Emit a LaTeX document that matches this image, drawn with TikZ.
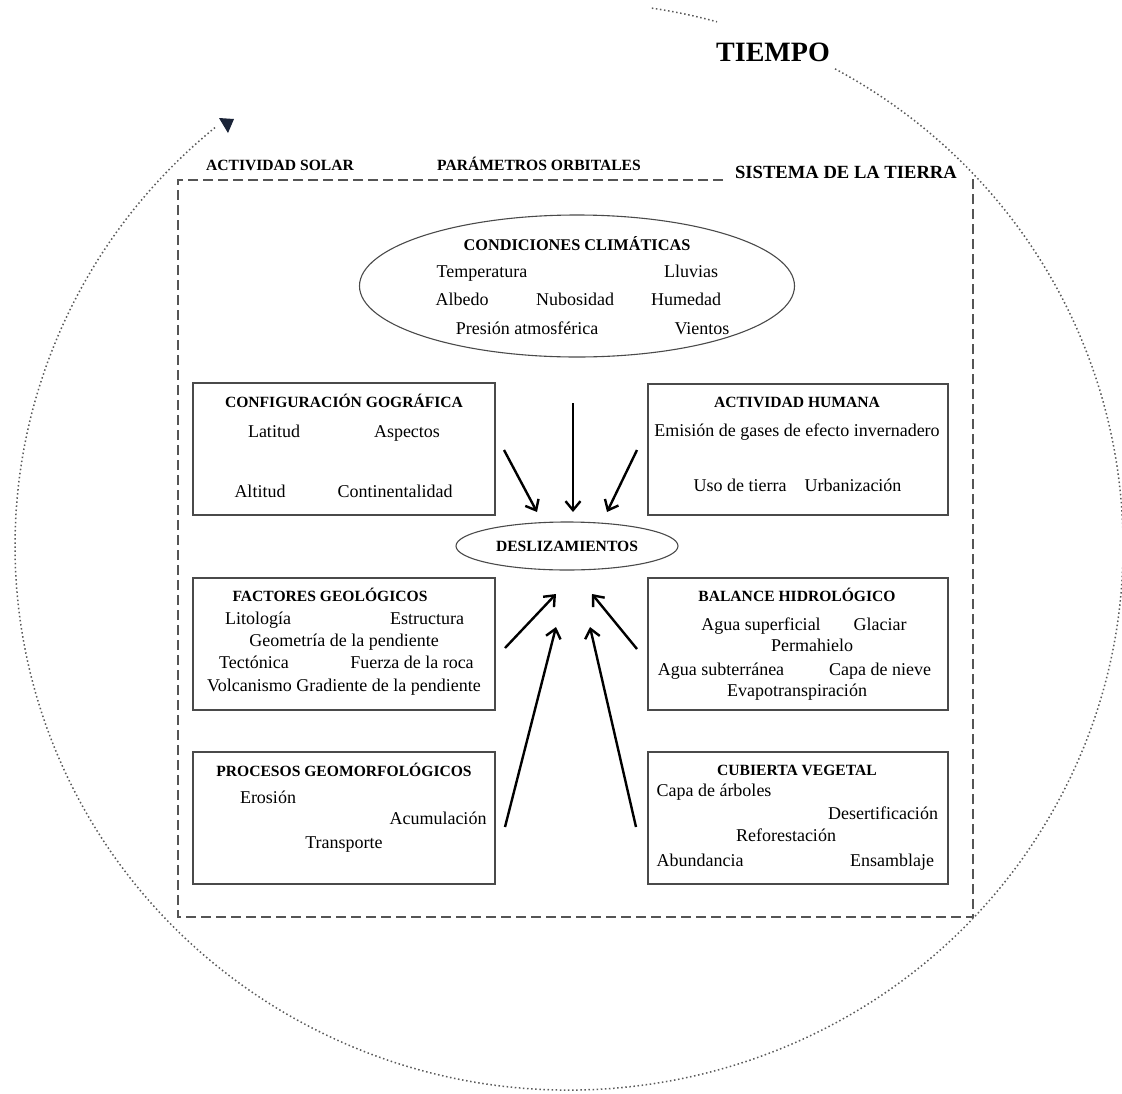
\documentclass[tikz,border=0pt]{standalone}
\usepackage{fontspec}
\setmainfont{Liberation Serif}
\usetikzlibrary{shapes.geometric,arrows.meta}

\definecolor{frame}{HTML}{555555}
\definecolor{boxline}{HTML}{4A4A4A}
\definecolor{dots}{HTML}{5A5A5A}
\definecolor{tipnavy}{HTML}{1B2438}

\tikzset{
  panel/.style={draw=boxline, line width=1.2pt, rectangle, inner sep=0pt},
  oval/.style={draw=boxline, line width=1.1pt, ellipse, inner sep=0pt},
  heading/.style={font=\bfseries\fontsize{15.6}{18}\selectfont, inner sep=0pt, text height=10.3pt, text depth=0pt},
  item/.style={font=\fontsize{18}{21}\selectfont, inner sep=0pt, text height=12pt, text depth=0pt},
  biglabel/.style={font=\bfseries\fontsize{28}{32}\selectfont, inner sep=0pt, text height=18.5pt, text depth=0pt},
  syslabel/.style={font=\bfseries\fontsize{18.6}{22}\selectfont, inner sep=0pt, text height=12.3pt, text depth=0pt},
  earthframe/.style={draw=frame, line width=2.5pt, dash pattern=on 10pt off 5pt},
  timeloop/.style={draw=dots, line width=1.5pt, dash pattern=on 1.5pt off 2.6pt},
  push/.style={draw=black, line width=2.4pt, -{Straight Barb[length=9pt,width=15pt,line width=2.4pt]}}
}

\begin{document}
\begin{tikzpicture}[x=1pt,y=-1pt]
\useasboundingbox (0,0) rectangle (1122,1093);

% time cycle around the Earth system
\draw[timeloop] (569,546) ++(-81.4:554 and 544) arc[start angle=-81.4, end angle=-74.5, x radius=554, y radius=544];
\draw[timeloop] (569,546) ++(-61.3:554 and 544) arc[start angle=-61.3, end angle=230.5, x radius=554, y radius=544];
\fill[tipnavy] (219,118) -- (234,119) -- (228,133) -- cycle;
\node[biglabel] (tiempo) at (773,52) {TIEMPO};

% external forcings and the Earth-system frame
\node[heading] (solar) at (280,165) {ACTIVIDAD SOLAR};
\node[heading] (orbital) at (539,165) {PARÁMETROS ORBITALES};
\node[syslabel] (sistema) at (846,172) {SISTEMA DE LA TIERRA};
\draw[earthframe] (723,180) -- (178,180) -- (178,917) -- (973,917) -- (973,178);

% climate conditions
\node[oval, minimum width=435pt, minimum height=142pt] (clima) at (577,286) {};
\node[heading, font=\bfseries\fontsize{16.3}{18}\selectfont] (climaT) at (577,245) {CONDICIONES CLIMÁTICAS};
\node[item] (c1) at (482,271) {Temperatura};
\node[item] (c2) at (691,271) {Lluvias};
\node[item] (c3) at (462,299) {Albedo};
\node[item] (c4) at (575,299) {Nubosidad};
\node[item] (c5) at (686,299) {Humedad};
\node[item] (c6) at (527,328) {Presión atmosférica};
\node[item] (c7) at (702,328) {Vientos};

% geographic configuration
\node[panel, minimum width=302pt, minimum height=132pt] (geo) at (344,449) {};
\node[heading] (geoT) at (344,402) {CONFIGURACIÓN GOGRÁFICA};
\node[item] (g1) at (274,431) {Latitud};
\node[item] (g2) at (407,431) {Aspectos};
\node[item] (g3) at (260,491) {Altitud};
\node[item] (g4) at (395,491) {Continentalidad};

% human activity
\node[panel, minimum width=300pt, minimum height=131pt] (hum) at (798,449.5) {};
\node[heading] (humT) at (797,402) {ACTIVIDAD HUMANA};
\node[item] (h1) at (797,430) {Emisión de gases de efecto invernadero};
\node[item] (h2) at (740,485) {Uso de tierra};
\node[item] (h3) at (853,485) {Urbanización};

% landslides
\node[oval, minimum width=222pt, minimum height=48pt] (desl) at (567,546) {};
\node[heading] (deslT) at (567,546) {DESLIZAMIENTOS};

% geological factors
\node[panel, minimum width=302pt, minimum height=132pt] (geol) at (344,644) {};
\node[heading] (geolT) at (330,596) {FACTORES GEOLÓGICOS};
\node[item] (f1) at (258,618) {Litología};
\node[item] (f2) at (427,618) {Estructura};
\node[item] (f3) at (344,640) {Geometría de la pendiente};
\node[item] (f4) at (254,662) {Tectónica};
\node[item] (f5) at (412,662) {Fuerza de la roca};
\node[item] (f6) at (344,685) {Volcanismo Gradiente de la pendiente};

% hydrological balance
\node[panel, minimum width=300pt, minimum height=132pt] (hidro) at (798,644) {};
\node[heading] (hidroT) at (797,596) {BALANCE HIDROLÓGICO};
\node[item] (b1) at (761,624) {Agua superficial};
\node[item] (b2) at (880,624) {Glaciar};
\node[item] (b3) at (812,645) {Permahielo};
\node[item] (b4) at (721,669) {Agua subterránea};
\node[item] (b5) at (880,669) {Capa de nieve};
\node[item] (b6) at (797,690) {Evapotranspiración};

% geomorphological processes
\node[panel, minimum width=302pt, minimum height=132pt] (proc) at (344,818) {};
\node[heading] (procT) at (344,771) {PROCESOS GEOMORFOLÓGICOS};
\node[item] (p1) at (268,797) {Erosión};
\node[item] (p2) at (438,818) {Acumulación};
\node[item] (p3) at (344,842) {Transporte};

% vegetation cover
\node[panel, minimum width=300pt, minimum height=132pt] (veg) at (798,818) {};
\node[heading] (vegT) at (797,770) {CUBIERTA VEGETAL};
\node[item] (v1) at (714,790) {Capa de árboles};
\node[item] (v2) at (883,813) {Desertificación};
\node[item] (v3) at (786,835) {Reforestación};
\node[item] (v4) at (700,860) {Abundancia};
\node[item] (v5) at (892,860) {Ensamblaje};

% arrow ends around the landslide node
\coordinate (geoOut) at (504,450);
\coordinate (climaOut) at (573,403);
\coordinate (humOut) at (637,450);
\coordinate (geolOut) at (505,648);
\coordinate (hidroOut) at (637,649);
\coordinate (procOut) at (505,827);
\coordinate (vegOut) at (636,827);
\coordinate (inNW) at (537,512);
\coordinate (inN) at (573,512);
\coordinate (inNE) at (607,512);
\coordinate (inSW) at (556,594);
\coordinate (inSE) at (592,594);
\coordinate (inSSW) at (556,627);
\coordinate (inSSE) at (590,627);

\draw[push] (geoOut) -- (inNW);
\draw[push] (climaOut) -- (inN);
\draw[push] (humOut) -- (inNE);
\draw[push] (geolOut) -- (inSW);
\draw[push] (hidroOut) -- (inSE);
\draw[push] (procOut) -- (inSSW);
\draw[push] (vegOut) -- (inSSE);
\end{tikzpicture}
\end{document}
